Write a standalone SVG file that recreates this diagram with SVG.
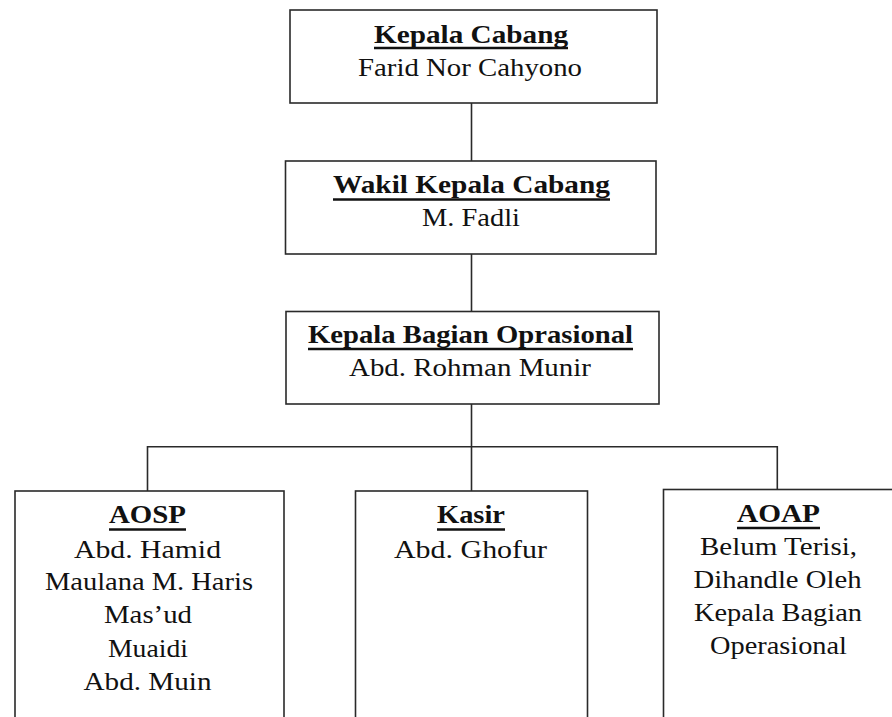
<svg xmlns="http://www.w3.org/2000/svg" width="892" height="717" viewBox="0 0 892 717">
<style>
.box{fill:#fff;stroke:#2a2a2a;stroke-width:1.6}
.ln{stroke:#2a2a2a;stroke-width:1.6;fill:none}
.t{font-family:"Liberation Serif","Times New Roman",serif;font-size:26px;fill:#111;text-anchor:middle}
.b{font-weight:bold}
.ul{stroke:#111;stroke-width:2.4}
</style>
<rect width="892" height="717" fill="#fff"/>
<g id="connectors">
<line class="ln" x1="471.5" y1="103" x2="471.5" y2="161"/>
<line class="ln" x1="471.5" y1="254" x2="471.5" y2="311"/>
<line class="ln" x1="471.5" y1="404" x2="471.5" y2="491"/>
<polyline class="ln" points="147.5,491 147.5,446.7 777.3,446.7 777.3,489.5"/>
</g>
<g id="kepala-cabang">
<rect class="box" x="290" y="10" width="367" height="93"/>
<text class="t b" x="471" y="43" textLength="194" lengthAdjust="spacingAndGlyphs">Kepala Cabang</text>
<line class="ul" x1="374" y1="48" x2="568" y2="48"/>
<text class="t" x="470" y="76" textLength="224" lengthAdjust="spacingAndGlyphs">Farid Nor Cahyono</text>
</g>
<g id="wakil">
<rect class="box" x="285.5" y="161" width="370.5" height="93"/>
<text class="t b" x="471.5" y="193" textLength="277" lengthAdjust="spacingAndGlyphs">Wakil Kepala Cabang</text>
<line class="ul" x1="333" y1="199.5" x2="610" y2="199.5"/>
<text class="t" x="471" y="226" textLength="98" lengthAdjust="spacingAndGlyphs">M. Fadli</text>
</g>
<g id="kabag">
<rect class="box" x="286" y="311.5" width="373" height="92.5"/>
<text class="t b" x="470.5" y="343" textLength="325" lengthAdjust="spacingAndGlyphs">Kepala Bagian Oprasional</text>
<line class="ul" x1="308" y1="349" x2="633" y2="349"/>
<text class="t" x="470" y="376" textLength="242" lengthAdjust="spacingAndGlyphs">Abd. Rohman Munir</text>
</g>
<g id="aosp">
<rect class="box" x="15" y="491" width="269" height="240"/>
<text class="t b" x="147.5" y="523" textLength="77" lengthAdjust="spacingAndGlyphs">AOSP</text>
<line class="ul" x1="109" y1="529.5" x2="186" y2="529.5"/>
<text class="t" x="147.5" y="558" textLength="147" lengthAdjust="spacingAndGlyphs">Abd. Hamid</text>
<text class="t" x="149" y="590" textLength="208" lengthAdjust="spacingAndGlyphs">Maulana M. Haris</text>
<text class="t" x="148" y="623" textLength="88" lengthAdjust="spacingAndGlyphs">Mas’ud</text>
<text class="t" x="148" y="656.5" textLength="80" lengthAdjust="spacingAndGlyphs">Muaidi</text>
<text class="t" x="147.5" y="690" textLength="128" lengthAdjust="spacingAndGlyphs">Abd. Muin</text>
</g>
<g id="kasir">
<rect class="box" x="355.5" y="491" width="232" height="240"/>
<text class="t b" x="471" y="523" textLength="68" lengthAdjust="spacingAndGlyphs">Kasir</text>
<line class="ul" x1="437" y1="529.5" x2="505" y2="529.5"/>
<text class="t" x="470.5" y="558" textLength="153" lengthAdjust="spacingAndGlyphs">Abd. Ghofur</text>
</g>
<g id="aoap">
<rect class="box" x="663.5" y="489.5" width="240" height="240"/>
<text class="t b" x="778.5" y="521.5" textLength="83" lengthAdjust="spacingAndGlyphs">AOAP</text>
<line class="ul" x1="737" y1="528" x2="820" y2="528"/>
<text class="t" x="778.5" y="555" textLength="157" lengthAdjust="spacingAndGlyphs">Belum Terisi,</text>
<text class="t" x="777.5" y="588" textLength="168" lengthAdjust="spacingAndGlyphs">Dihandle Oleh</text>
<text class="t" x="778" y="620.5" textLength="168" lengthAdjust="spacingAndGlyphs">Kepala Bagian</text>
<text class="t" x="778.5" y="654" textLength="137" lengthAdjust="spacingAndGlyphs">Operasional</text>
</g>
</svg>
